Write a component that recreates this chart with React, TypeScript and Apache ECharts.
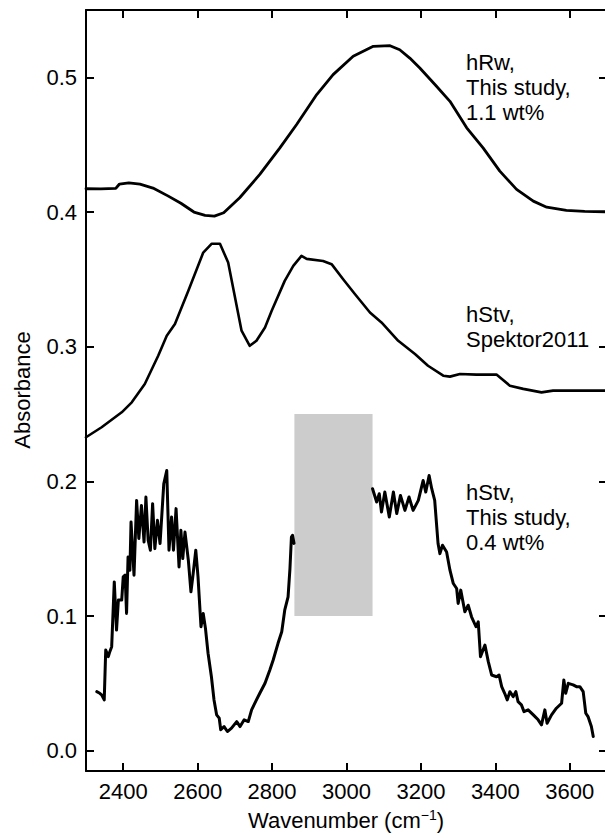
import React, { useEffect, useRef, useState } from "react";
import * as echarts from "echarts";

const xTicks = [2400, 2600, 2800, 3000, 3200, 3400, 3600];
const yTicks = [0, 0.1, 0.2, 0.3, 0.4, 0.5];

const hRw: [number, number][] = [
  [2300, 0.4173], [2340, 0.4172], [2380, 0.4175], [2390, 0.4208], [2415, 0.4217],
  [2445, 0.4207], [2480, 0.4178], [2520, 0.412], [2555, 0.4065], [2590, 0.4],
  [2620, 0.3975], [2645, 0.397], [2670, 0.3995], [2713, 0.4106], [2767, 0.4279],
  [2821, 0.4476], [2866, 0.465], [2920, 0.4872], [2964, 0.502], [3018, 0.5156],
  [3072, 0.523], [3117, 0.5235], [3143, 0.5205], [3170, 0.5143], [3197, 0.5069],
  [3240, 0.494], [3278, 0.4822], [3323, 0.4625], [3367, 0.4476], [3412, 0.4304],
  [3457, 0.4168], [3502, 0.4081], [3538, 0.4036], [3591, 0.4012], [3640, 0.4005],
  [3700, 0.4002],
];

const spektor: [number, number][] = [
  [2300, 0.2328], [2342, 0.2402], [2396, 0.2513], [2423, 0.2587], [2458, 0.2723],
  [2494, 0.2933], [2517, 0.3081], [2539, 0.3168], [2575, 0.3415], [2615, 0.3699],
  [2638, 0.3765], [2660, 0.3765], [2682, 0.3625], [2718, 0.3119], [2740, 0.3007],
  [2758, 0.3044], [2781, 0.3143], [2799, 0.3267], [2834, 0.3489], [2857, 0.36],
  [2879, 0.3674], [2893, 0.3652], [2937, 0.3637], [2960, 0.3613], [2991, 0.3501],
  [3023, 0.339], [3063, 0.3254], [3094, 0.318], [3139, 0.3044], [3184, 0.2946],
  [3219, 0.2859], [3260, 0.2785], [3278, 0.2778], [3305, 0.2798], [3349, 0.2793],
  [3403, 0.2793], [3439, 0.2711], [3475, 0.2687], [3524, 0.2661], [3555, 0.2674],
  [3627, 0.2674], [3700, 0.2674],
];

const hStvLeft: [number, number][] = [
  [2329, 0.0439], [2337, 0.0427], [2342, 0.0415], [2349, 0.0378], [2353, 0.0748],
  [2360, 0.0699], [2364, 0.0736], [2369, 0.0773], [2376, 0.1254], [2382, 0.0896],
  [2387, 0.1119], [2396, 0.1119], [2400, 0.1291], [2405, 0.1304], [2409, 0.102],
  [2413, 0.1439], [2418, 0.1341], [2421, 0.1699], [2429, 0.1304], [2436, 0.1859],
  [2442, 0.1576], [2449, 0.1822], [2456, 0.155], [2461, 0.1884], [2467, 0.1563],
  [2473, 0.1489], [2479, 0.1835], [2485, 0.1501], [2492, 0.1711], [2499, 0.1539],
  [2509, 0.1983], [2517, 0.2081], [2523, 0.1489], [2530, 0.1736], [2535, 0.1489],
  [2542, 0.1798], [2550, 0.1365], [2555, 0.1637], [2560, 0.1427], [2566, 0.1624],
  [2575, 0.1415], [2582, 0.118], [2588, 0.1316], [2595, 0.1489], [2601, 0.1291],
  [2609, 0.0921], [2615, 0.102], [2621, 0.0909], [2628, 0.0724], [2637, 0.055],
  [2644, 0.0378], [2651, 0.0267], [2658, 0.0242], [2662, 0.0156], [2671, 0.018],
  [2680, 0.0143], [2691, 0.0168], [2705, 0.0217], [2714, 0.018], [2725, 0.023],
  [2736, 0.0217], [2745, 0.0304], [2758, 0.0378], [2767, 0.0427], [2781, 0.0501],
  [2794, 0.06], [2803, 0.0674], [2816, 0.0798], [2826, 0.0884], [2834, 0.1044],
  [2843, 0.1143], [2848, 0.135], [2852, 0.1587], [2855, 0.16], [2859, 0.154],
];

const hStvRight: [number, number][] = [
  [3070, 0.1946], [3081, 0.1847], [3088, 0.1909], [3094, 0.1773], [3103, 0.1921],
  [3115, 0.1736], [3126, 0.1921], [3135, 0.1761], [3145, 0.1896], [3157, 0.1785],
  [3168, 0.1884], [3179, 0.1785], [3193, 0.1859], [3206, 0.2007], [3213, 0.1921],
  [3222, 0.2044], [3229, 0.1946], [3237, 0.1859], [3246, 0.1539], [3251, 0.1464],
  [3258, 0.1526], [3269, 0.1476], [3278, 0.1341], [3287, 0.1242], [3296, 0.1205],
  [3300, 0.1094], [3307, 0.1193], [3318, 0.1032], [3327, 0.1081], [3336, 0.0995],
  [3348, 0.0921], [3354, 0.0958], [3360, 0.0699], [3372, 0.0785], [3381, 0.0662],
  [3390, 0.0563], [3403, 0.055], [3410, 0.0563], [3417, 0.0476], [3425, 0.0427],
  [3432, 0.0378], [3439, 0.0439], [3448, 0.0402], [3455, 0.0439], [3461, 0.0365],
  [3470, 0.0341], [3477, 0.0291], [3488, 0.0304], [3502, 0.0267], [3515, 0.023],
  [3524, 0.0193], [3533, 0.0304], [3539, 0.0205], [3551, 0.0267], [3564, 0.0316],
  [3578, 0.0353], [3584, 0.0526], [3589, 0.0427], [3596, 0.0501], [3609, 0.0489],
  [3618, 0.0476], [3627, 0.0476], [3636, 0.0439], [3643, 0.0279], [3649, 0.0254],
  [3658, 0.018], [3663, 0.0106],
];

const grayBox = { x0: 2860, x1: 3070, y0: 0.1, y1: 0.25 };

const labels = [
  { lines: ["hRw,", "This study,", "1.1 wt%"], left: 466, top: 50 },
  { lines: ["hStv,", "Spektor2011"], left: 466, top: 302 },
  { lines: ["hStv,", "This study,", "0.4 wt%"], left: 466, top: 480 },
];

const FONT = "'Liberation Sans', Arial, Helvetica, sans-serif";
const FS = 22;

export default function App() {
  const ref = useRef<HTMLDivElement>(null);
  const [err, setErr] = useState("");
  useEffect(() => {
    if (!ref.current) return;
    const chart = echarts.init(ref.current, undefined, { renderer: "svg" });
    const mkLine = () => ({ show: true, onZero: false, lineStyle: { color: "#000", width: 2 } });
    const mkTick = (vals: number[]) => ({
      show: true,
      inside: true,
      length: 8,
      lineStyle: { color: "#000", width: 2 },
      customValues: vals,
    });
    const xBase = () => ({ type: "value", min: 2300, max: 3700, splitLine: { show: false }, axisLine: mkLine() });
    const yBase = () => ({ type: "value", min: -0.015, max: 0.55, splitLine: { show: false }, axisLine: mkLine() });
    const lineSeries = (data: [number, number][], width: number, extra: any = {}) => ({
      type: "line",
      data,
      showSymbol: false,
      symbol: "none",
      lineStyle: { color: "#000", width, join: "round", cap: "round" },
      silent: true,
      ...extra,
    });
    try {
      chart.setOption({
        animation: false,
        backgroundColor: "#fff",
        grid: { left: 86, top: 10, right: 13, bottom: 67 },
        xAxis: [
          {
            ...xBase(),
            position: "bottom",
            axisTick: mkTick(xTicks),
            axisLabel: {
              show: true,
              customValues: xTicks,
              color: "#000",
              fontSize: FS,
              fontFamily: FONT,
              margin: 9,
              formatter: (v: number) => String(v),
            },
          },
          {
            ...xBase(),
            position: "top",
            axisTick: mkTick(xTicks),
            axisLabel: { show: false, customValues: xTicks },
          },
        ],
        yAxis: [
          {
            ...yBase(),
            position: "left",
            axisTick: mkTick(yTicks),
            axisLabel: {
              show: true,
              customValues: yTicks,
              color: "#000",
              fontSize: FS,
              fontFamily: FONT,
              margin: 9,
              formatter: (v: number) => v.toFixed(1),
            },
          },
          {
            ...yBase(),
            position: "right",
            axisTick: mkTick(yTicks),
            axisLabel: { show: false, customValues: yTicks },
          },
        ],
        series: [
          lineSeries(hStvLeft, 3, {
            markArea: {
              silent: true,
              itemStyle: { color: "#cccccc", opacity: 1 },
              data: [[{ coord: [grayBox.x0, grayBox.y1] }, { coord: [grayBox.x1, grayBox.y0] }]],
            },
          }),
          lineSeries(hStvRight, 3),
          lineSeries(spektor, 2.6),
          lineSeries(hRw, 2.8),
        ],
        graphic: [
          ...labels.map((l) => ({
            type: "text",
            left: l.left,
            top: l.top,
            silent: true,
            style: {
              text: l.lines.join("\n"),
              fill: "#000",
              font: `${FS}px ${FONT}`,
              lineHeight: 25,
            },
          })),
          {
            type: "text",
            x: 346,
            y: 820,
            silent: true,
            style: {
              text: "Wavenumber (cm{sup|\u22121})",
              fill: "#000",
              font: `${FS}px ${FONT}`,
              align: "center",
              verticalAlign: "middle",
              rich: {
                sup: { fontSize: 14, fontFamily: FONT, verticalAlign: "top", padding: [0, 0, 10, 0], fill: "#000" },
              },
            },
          },
          {
            type: "text",
            x: 22,
            y: 390,
            rotation: Math.PI / 2,
            silent: true,
            style: {
              text: "Absorbance",
              fill: "#000",
              font: `${FS}px ${FONT}`,
              align: "center",
              verticalAlign: "middle",
            },
          },
        ],
      });
    } catch (e: any) {
      setErr(String(e && e.stack ? e.stack : e));
    }
    return () => chart.dispose();
  }, []);
  return (
    <div style={{ position: "fixed", left: 0, top: 0, width: 605, height: 838, overflow: "hidden", background: "#fff" }}>
      <div ref={ref} style={{ width: 620, height: 838 }} />
      {err ? (
        <pre style={{ position: "absolute", left: 0, top: 0, fontSize: 10, color: "red", whiteSpace: "pre-wrap" }}>{err}</pre>
      ) : null}
    </div>
  );
}
